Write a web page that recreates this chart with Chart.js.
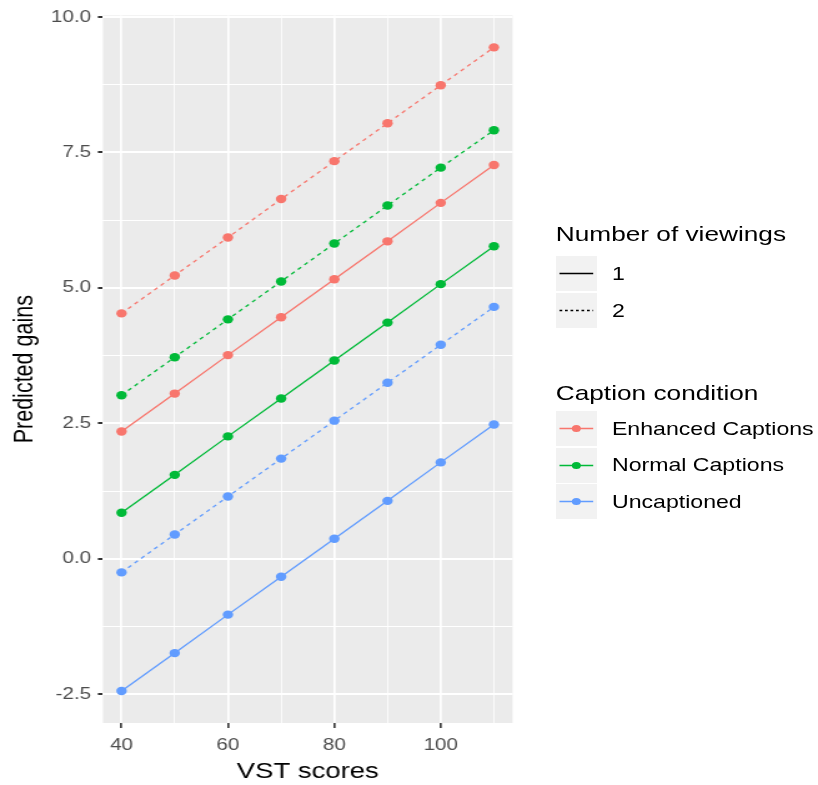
<!DOCTYPE html>
<html>
<head>
<meta charset="utf-8">
<script src="https://cdn.jsdelivr.net/npm/chart.js@4/dist/chart.umd.min.js"></script>
<style>
  html, body { margin: 0; padding: 0; background: #ffffff; overflow: hidden; }
  #wrap { position: absolute; left: 0; top: 0; width: 655px; height: 785px;
          transform-origin: 0 0; transform: scaleX(1.2489); }
  #c { position: absolute; left: 0; top: 0; }
  .lg { position: absolute; font-family: 'Liberation Sans', Arial, sans-serif; color: #000; white-space: nowrap; }
  .lgt { font-size: 21px; }
  .lgl { font-size: 18.5px; }
  .key { position: absolute; width: 33px; height: 35px; background: #F2F2F2; }
</style>
</head>
<body>
<div id="wrap">
  <canvas id="c" width="655" height="785"></canvas>
  <div id="legend"></div>
</div>
<script>
// ---- data ----
const vstScores = [40, 50, 60, 70, 80, 90, 100, 110];
const enhanced1 = [2.35, 3.05, 3.76, 4.46, 5.16, 5.86, 6.57, 7.27];
const enhanced2 = [4.53, 5.23, 5.93, 6.64, 7.34, 8.04, 8.74, 9.44];
const normal1   = [0.85, 1.55, 2.26, 2.96, 3.66, 4.36, 5.07, 5.77];
const normal2   = [3.02, 3.72, 4.42, 5.12, 5.82, 6.52, 7.22, 7.91];
const uncap1    = [-2.44, -1.74, -1.03, -0.33, 0.37, 1.07, 1.78, 2.48];
const uncap2    = [-0.25, 0.45, 1.15, 1.85, 2.55, 3.25, 3.95, 4.65];

const conditions = ['Enhanced Captions', 'Normal Captions', 'Uncaptioned'];
const viewings = ['1', '2'];
const colors = ['#F8766D', '#00BA38', '#619CFF'];

const xMajorTicks = [40, 60, 80, 100];
const xMinorTicks = [50, 70, 90, 110];
const yMajorTicks = [-2.5, 0, 2.5, 5, 7.5, 10];
const yMinorTicks = [-1.25, 1.25, 3.75, 6.25, 8.75];

const xTitle = 'VST scores';
const yTitle = 'Predicted gains';
const viewTitle = 'Number of viewings';
const condTitle = 'Caption condition';

// ---- build datasets ----
const seriesTable = [
  [enhanced1, 0, 0], [enhanced2, 0, 1],
  [normal1, 1, 0],   [normal2, 1, 1],
  [uncap1, 2, 0],    [uncap2, 2, 1]
];
const datasets = seriesTable.map(([vals, ci, vi]) => ({
  label: conditions[ci] + ' / ' + viewings[vi],
  data: vstScores.map((x, i) => ({ x: x, y: vals[i] })),
  borderColor: colors[ci],
  backgroundColor: colors[ci],
  borderWidth: 1.3,
  borderDash: vi === 1 ? [3.5, 3.5] : [],
  pointRadius: 4.2,
  pointHoverRadius: 4.2,
  pointBorderWidth: 0,
  tension: 0
}));

const majorSet = (arr) => new Set(arr.map(v => v.toFixed(3)));
const xMaj = majorSet(xMajorTicks), yMaj = majorSet(yMajorTicks);
const isMaj = (set, v) => set.has(Number(v).toFixed(3));

const panelBg = {
  id: 'panelBg',
  beforeDraw(chart) {
    const a = chart.chartArea, ctx = chart.ctx;
    ctx.save();
    ctx.fillStyle = '#EBEBEB';
    ctx.fillRect(a.left, a.top, a.right - a.left, a.bottom - a.top);
    ctx.restore();
  }
};

const font = "'Liberation Sans', Arial, sans-serif";

new Chart(document.getElementById('c'), {
  type: 'line',
  data: { datasets: datasets },
  options: {
    responsive: false,
    animation: false,
    events: [],
    layout: { padding: { top: 14, right: 244.6, left: 0, bottom: 0 } },
    plugins: { legend: { display: false }, tooltip: { enabled: false } },
    scales: {
      x: {
        type: 'linear',
        min: 36.5, max: 113.5,
        afterBuildTicks(s) { s.ticks = xMajorTicks.concat(xMinorTicks).sort((a,b)=>a-b).map(v => ({ value: v })); },
        afterFit(s) { s.height = 62; },
        border: { display: false },
        grid: {
          color: '#FFFFFF',
          lineWidth: (c) => isMaj(xMaj, c.tick.value) ? 1.7 : 0.85,
          tickColor: (c) => isMaj(xMaj, c.tick.value) ? '#333333' : 'rgba(0,0,0,0)',
          tickLength: 5,
          tickWidth: 1.6,
          drawTicks: true
        },
        ticks: {
          autoSkip: false, maxRotation: 0,
          padding: 8,
          color: '#4D4D4D',
          font: { family: font, size: 16.5 },
          callback: (v) => isMaj(xMaj, v) ? String(v) : ''
        },
        title: {
          display: true, text: xTitle, color: '#000000',
          font: { family: font, size: 22 },
          padding: { top: 0, bottom: 0 }
        }
      },
      y: {
        type: 'linear',
        min: -3.03, max: 10.03,
        afterBuildTicks(s) { s.ticks = yMajorTicks.concat(yMinorTicks).sort((a,b)=>a-b).map(v => ({ value: v })); },
        afterFit(s) { s.width = 82.4; },
        border: { display: false },
        grid: {
          color: '#FFFFFF',
          lineWidth: (c) => isMaj(yMaj, c.tick.value) ? 2 : 1,
          tickColor: (c) => isMaj(yMaj, c.tick.value) ? '#333333' : 'rgba(0,0,0,0)',
          tickLength: 4,
          tickWidth: 2,
          drawTicks: true
        },
        ticks: {
          autoSkip: false,
          padding: 5.5,
          color: '#4D4D4D',
          font: { family: font, size: 16.5 },
          callback: (v) => isMaj(yMaj, v) ? Number(v).toFixed(1) : ''
        },
        title: {
          display: true, text: yTitle, color: '#000000',
          font: { family: font, size: 21.5 },
          padding: { top: 7, bottom: 0 }
        }
      }
    }
  },
  plugins: [panelBg]
});

// ---- HTML legend (text kept as real text) ----
const legend = document.getElementById('legend');
function addText(txt, cls, left, centerY) {
  const d = document.createElement('div');
  d.className = 'lg ' + cls;
  d.textContent = txt;
  d.style.left = left + 'px';
  d.style.top = centerY + 'px';
  d.style.transform = 'translateY(-50%)';
  d.style.lineHeight = '1';
  legend.appendChild(d);
}
function addKey(top, color, dashed, dot) {
  const k = document.createElement('div');
  k.className = 'key';
  k.style.left = '445px';
  k.style.top = top + 'px';
  const ns = 'http://www.w3.org/2000/svg';
  const svg = document.createElementNS(ns, 'svg');
  svg.setAttribute('width', '33'); svg.setAttribute('height', '35');
  svg.style.position = 'absolute'; svg.style.left = '0'; svg.style.top = '0';
  const ln = document.createElementNS(ns, 'line');
  ln.setAttribute('x1', '3'); ln.setAttribute('x2', '30');
  ln.setAttribute('y1', '17.5'); ln.setAttribute('y2', '17.5');
  ln.setAttribute('stroke', color); ln.setAttribute('stroke-width', '1.4');
  if (dashed) ln.setAttribute('stroke-dasharray', '2.2 2.2');
  svg.appendChild(ln);
  if (dot) {
    const c = document.createElementNS(ns, 'circle');
    c.setAttribute('cx', '16.5'); c.setAttribute('cy', '17.5'); c.setAttribute('r', '3.6');
    c.setAttribute('fill', color);
    svg.appendChild(c);
  }
  k.appendChild(svg);
  legend.appendChild(k);
}
addText(viewTitle, 'lgt', 445, 233);
viewings.forEach((v, i) => {
  const top = 256 + i * 37;
  addKey(top, '#000000', i === 1, false);
  addText(v, 'lgl', 490, top + 17.5);
});
addText(condTitle, 'lgt', 445, 392);
conditions.forEach((c, i) => {
  const top = 411 + i * 36.5;
  addKey(top, colors[i], false, true);
  addText(c, 'lgl', 490, top + 17.5);
});
</script>
</body>
</html>
